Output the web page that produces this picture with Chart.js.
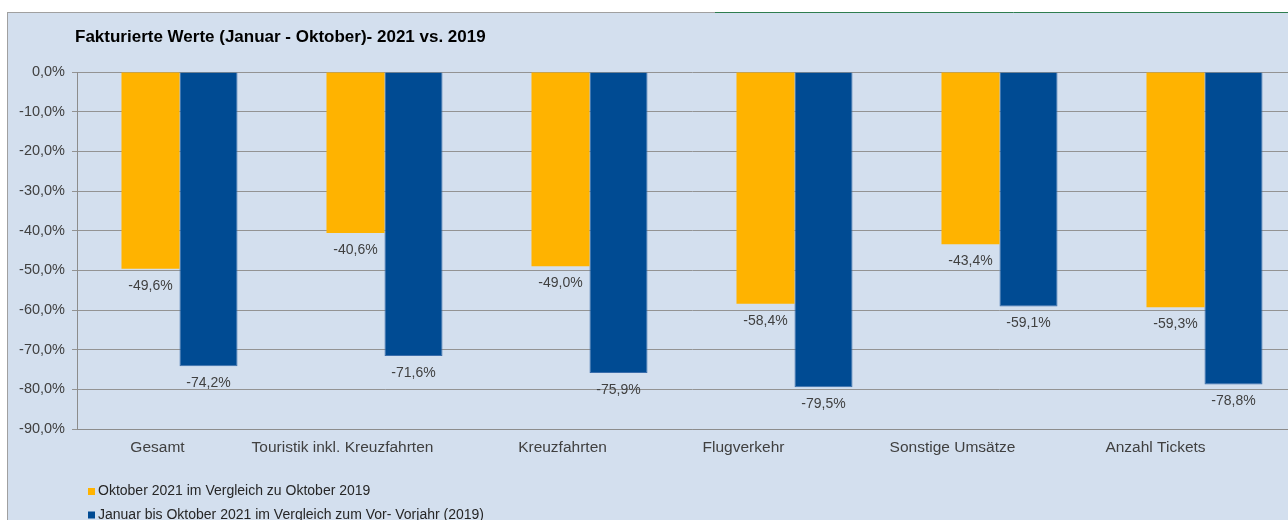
<!DOCTYPE html>
<html>
<head>
<meta charset="utf-8">
<script src="https://cdn.jsdelivr.net/npm/chart.js@4/dist/chart.umd.min.js"></script>
<style>
  html, body { margin: 0; padding: 0; background: #fff; overflow: hidden; }
  #wrap { width: 1312px; height: 520px; }
</style>
</head>
<body>
<div id="wrap"><canvas id="chart" width="1312" height="520"></canvas></div>
<script>
// data
const categories = ['Gesamt', 'Touristik inkl. Kreuzfahrten', 'Kreuzfahrten', 'Flugverkehr', 'Sonstige Umsätze', 'Anzahl Tickets'];
const oktoberValues = [-49.6, -40.6, -49.0, -58.4, -43.4, -59.3];
const janOktValues = [-74.2, -71.6, -75.9, -79.5, -59.1, -78.8];
const seriesNames = ['Oktober 2021 im Vergleich zu Oktober 2019', 'Januar bis Oktober 2021 im Vergleich zum Vor- Vorjahr (2019)'];
const chartTitle = 'Fakturierte Werte (Januar - Oktober)- 2021 vs. 2019';

// the category names sit a little left of their bar pairs in the original
const xLabelNudge = [-22, -42, -27, -51, -47, -49];

const FONT = '"Liberation Sans", Arial, sans-serif';

function pct(v) {
    if (Math.abs(v) < 1e-9) v = 0;
    return v.toFixed(1).replace('.', ',') + '%';
}

// background panel, borders, title, category names and legend
const frame = {
    id: 'frame',
    beforeDraw(chart) {
        const c = chart.ctx;
        c.save();
        c.fillStyle = '#ffffff';
        c.fillRect(0, 0, chart.width, chart.height);
        c.fillStyle = '#d3dfee';
        c.fillRect(7, 12, chart.width - 7, chart.height - 12);
        c.strokeStyle = '#a0a0a0';
        c.lineWidth = 1;
        c.beginPath();
        c.moveTo(7.5, 12);
        c.lineTo(7.5, chart.height);
        c.moveTo(7, 12.5);
        c.lineTo(715, 12.5);
        c.stroke();
        c.strokeStyle = '#2e7d4f';
        c.beginPath();
        c.moveTo(715, 12.5);
        c.lineTo(chart.width, 12.5);
        c.stroke();
        c.restore();
    },
    afterDraw(chart) {
        const c = chart.ctx;
        c.save();
        c.fillStyle = '#000';
        c.font = 'bold 17px ' + FONT;
        c.textBaseline = 'middle';
        c.fillText(chartTitle, 75, 37);

        // category names
        const xs = chart.scales.x;
        c.font = '15.5px ' + FONT;
        c.fillStyle = '#404040';
        c.textAlign = 'center';
        categories.forEach((name, i) => {
            c.fillText(name, xs.getPixelForValue(i) + xLabelNudge[i], 448);
        });

        // legend
        c.textAlign = 'left';
        c.font = '14px ' + FONT;
        chart.data.datasets.forEach((ds, i) => {
            const y = 491.5 + i * 23.5;
            c.fillStyle = ds.backgroundColor;
            c.fillRect(88, y - 3.5, 7, 7);
            c.fillStyle = '#262626';
            c.fillText(ds.label, 98, y);
        });
        c.restore();
    }
};

// value labels below the bar ends
const barLabels = {
    id: 'barLabels',
    afterDatasetsDraw(chart) {
        const c = chart.ctx;
        c.save();
        c.font = '14px ' + FONT;
        c.fillStyle = '#404040';
        c.textAlign = 'center';
        c.textBaseline = 'middle';
        chart.data.datasets.forEach((ds, i) => {
            chart.getDatasetMeta(i).data.forEach((bar, j) => {
                c.fillText(pct(ds.data[j]), bar.x, bar.y + 17);
            });
        });
        c.restore();
    }
};

new Chart(document.getElementById('chart'), {
    type: 'bar',
    data: {
        labels: categories,
        datasets: [{
            label: seriesNames[0],
            data: oktoberValues,
            backgroundColor: '#ffb300',
            categoryPercentage: 0.566,
            barPercentage: 1
        }, {
            label: seriesNames[1],
            data: janOktValues,
            backgroundColor: '#004b93',
            borderColor: '#3a6dab',
            borderWidth: 1,
            categoryPercentage: 0.566,
            barPercentage: 1
        }]
    },
    options: {
        responsive: false,
        animation: false,
        layout: { padding: { top: 72, right: 5, left: 0, bottom: 0 } },
        plugins: {
            legend: { display: false },
            title: { display: false },
            tooltip: { enabled: false }
        },
        scales: {
            x: {
                grid: { display: false, drawTicks: false },
                border: { color: '#8c8c8c' },
                ticks: { display: false },
                afterFit(scale) { scale.height = 91; }
            },
            y: {
                min: -90,
                max: 0,
                grid: { color: '#939393', tickLength: 5 },
                border: { color: '#8c8c8c' },
                ticks: {
                    stepSize: 10,
                    color: '#404040',
                    padding: 7,
                    font: { family: FONT, size: 14.5 },
                    callback: v => pct(v)
                },
                afterFit(scale) { scale.width = 77; }
            }
        }
    },
    plugins: [frame, barLabels]
});
</script>
</body>
</html>
